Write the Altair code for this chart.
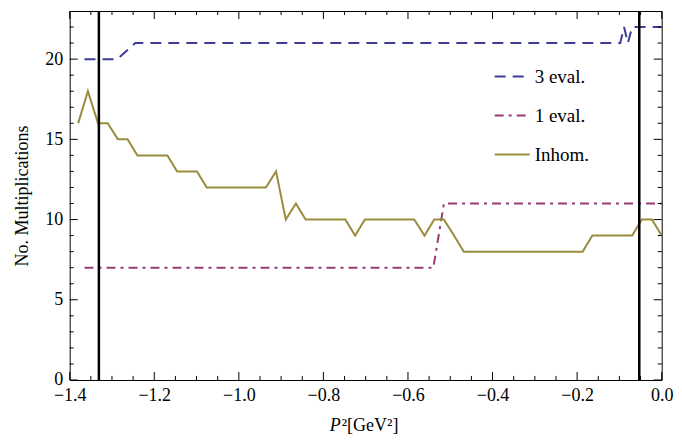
import altair as alt
import pandas as pd

# ---------------- data ----------------
P2_INHOM = [-1.380, -1.357, -1.333, -1.310, -1.286, -1.263, -1.240, -1.216, -1.193, -1.169,
            -1.146, -1.123, -1.099, -1.076, -1.053, -1.029, -1.006, -0.982, -0.959, -0.936,
            -0.912, -0.889, -0.865, -0.842, -0.819, -0.795, -0.772, -0.748, -0.725, -0.702,
            -0.678, -0.655, -0.632, -0.608, -0.585, -0.561, -0.538, -0.515, -0.491, -0.468,
            -0.444, -0.421, -0.398, -0.374, -0.351, -0.327, -0.304, -0.281, -0.257, -0.234,
            -0.211, -0.187, -0.164, -0.140, -0.117, -0.094, -0.070, -0.047, -0.023, 0.000]
N_INHOM = [16, 18, 16, 16, 15, 15, 14, 14, 14, 14,
           13, 13, 13, 12, 12, 12, 12, 12, 12, 12,
           13, 10, 11, 10, 10, 10, 10, 10, 9, 10,
           10, 10, 10, 10, 10, 9, 10, 10, 9, 8,
           8, 8, 8, 8, 8, 8, 8, 8, 8, 8,
           8, 8, 9, 9, 9, 9, 9, 10, 10, 9]

P2_3EVAL = [-1.365, -1.287, -1.245, -0.098, -0.089, -0.080, -0.070, 0.000]
N_3EVAL = [20, 20, 21, 21, 22, 21, 22, 22]

P2_1EVAL = [-1.365, -0.540, -0.515, 0.000]
N_1EVAL = [7, 7, 11, 11]

VLINES = [-1.331, -0.053]

SERIES = ["3 eval.", "1 eval.", "Inhom."]
COLORS = ["#3d3d99", "#993d71", "#998d3d"]
DASHES = [[11, 7], [9, 5, 3, 5], [1, 0]]
WIDTHS = [2, 2, 2.4]

X_MAJOR = [-1.4, -1.2, -1.0, -0.8, -0.6, -0.4, -0.2, 0.0]
X_MINOR = [-1.35, -1.30, -1.25, -1.15, -1.10, -1.05, -0.95, -0.90, -0.85,
           -0.75, -0.70, -0.65, -0.55, -0.50, -0.45, -0.35, -0.30, -0.25,
           -0.15, -0.10, -0.05]
Y_MAJOR = [0, 5, 10, 15, 20]
Y_MINOR = [1, 2, 3, 4, 6, 7, 8, 9, 11, 12, 13, 14, 16, 17, 18, 19, 21, 22]

X_TITLE_ITALIC = ["P"]
X_TITLE_REST = ["²[GeV²]"]
Y_TITLE = "No. Multiplications"

W, H = 592, 369
FONT = "Liberation Serif"
FS = 18

rows = []
for name, xs, ys in [("3 eval.", P2_3EVAL, N_3EVAL),
                     ("1 eval.", P2_1EVAL, N_1EVAL),
                     ("Inhom.", P2_INHOM, N_INHOM)]:
    for x, y in zip(xs, ys):
        rows.append({"P2": x, "N": y, "series": name})
df = pd.DataFrame(rows)

xscale = alt.Scale(domain=[-1.4, 0.0], nice=False, zero=False)
yscale = alt.Scale(domain=[0, 23], nice=False, zero=True)

X_AXIS = alt.Axis(values=X_MAJOR, format=".1f", ticks=False, domain=False,
                  grid=False, labelPadding=7, labelFlush=False, labelOverlap=False,
                  title=None)
Y_AXIS = alt.Axis(values=Y_MAJOR, ticks=False, domain=False, grid=False,
                  labelPadding=7, labelFlush=False, labelOverlap=False,
                  title=Y_TITLE, titlePadding=13)

legend = alt.Legend(title=None, orient="none", legendX=424, legendY=47,
                    symbolType="stroke", symbolSize=1225, symbolStrokeWidth=2,
                    labelFont=FONT, labelFontSize=19, labelColor="black",
                    labelOffset=4, rowPadding=10, padding=0)

lines = alt.Chart(df).mark_line().encode(
    x=alt.X("P2:Q", scale=xscale, axis=X_AXIS),
    y=alt.Y("N:Q", scale=yscale, axis=Y_AXIS),
    color=alt.Color("series:N", scale=alt.Scale(domain=SERIES, range=COLORS),
                    legend=legend),
    strokeDash=alt.StrokeDash("series:N", scale=alt.Scale(domain=SERIES, range=DASHES),
                              legend=legend),
    strokeWidth=alt.StrokeWidth("series:N", scale=alt.Scale(domain=SERIES, range=WIDTHS),
                                legend=None),
)

vl = alt.Chart(pd.DataFrame({"P2": VLINES})).mark_rule(
    color="black", strokeWidth=2.5).encode(x=alt.X("P2:Q", scale=xscale, axis=X_AXIS))


def xticks(vals, length):
    d = pd.DataFrame({"P2": vals})
    b = alt.Chart(d).mark_rule(color="black", strokeWidth=1).encode(
        x=alt.X("P2:Q", scale=xscale, axis=X_AXIS), y=alt.value(H), y2=alt.value(H - length))
    t = alt.Chart(d).mark_rule(color="black", strokeWidth=1).encode(
        x=alt.X("P2:Q", scale=xscale, axis=X_AXIS), y=alt.value(0), y2=alt.value(length))
    return [b, t]


def yticks(vals, length):
    d = pd.DataFrame({"N": vals})
    l = alt.Chart(d).mark_rule(color="black", strokeWidth=1).encode(
        y=alt.Y("N:Q", scale=yscale, axis=Y_AXIS), x=alt.value(0), x2=alt.value(length))
    r = alt.Chart(d).mark_rule(color="black", strokeWidth=1).encode(
        y=alt.Y("N:Q", scale=yscale, axis=Y_AXIS), x=alt.value(W), x2=alt.value(W - length))
    return [l, r]


title_p = alt.Chart(pd.DataFrame({"t": X_TITLE_ITALIC})).mark_text(
    font=FONT, fontSize=FS, fontStyle="italic", align="right", baseline="alphabetic",
    color="black").encode(text="t:N", x=alt.value(271), y=alt.value(420))
title_rest = alt.Chart(pd.DataFrame({"t": X_TITLE_REST})).mark_text(
    font=FONT, fontSize=FS, align="left", baseline="alphabetic",
    color="black").encode(text="t:N", x=alt.value(272), y=alt.value(420))

layers = ([lines, vl] + xticks(X_MAJOR, 8) + xticks(X_MINOR, 4)
          + yticks(Y_MAJOR, 8) + yticks(Y_MINOR, 4) + [title_p, title_rest])

chart = alt.layer(*layers).properties(
    width=W, height=H,
    autosize=alt.AutoSizeParams(type="none"),
    padding={"left": 61.7, "top": 3, "right": 12, "bottom": 54},
).configure_view(stroke="black", strokeWidth=1).configure_axis(
    labelFont=FONT, titleFont=FONT, labelFontSize=FS, titleFontSize=FS,
    labelColor="black", titleColor="black", titleFontWeight="normal"
)

chart.save("out.html", embed_options={"renderer": "svg", "actions": False})
